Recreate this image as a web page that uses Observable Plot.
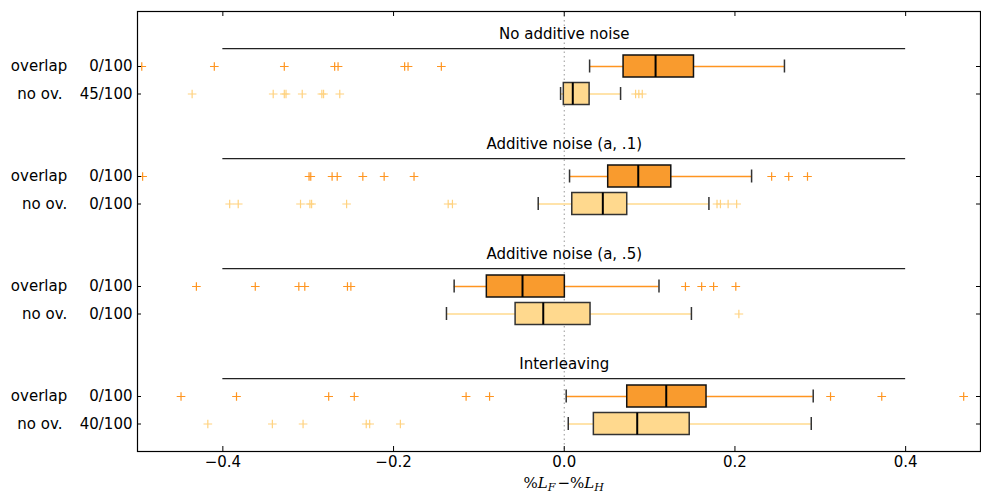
<!DOCTYPE html>
<html>
<head>
<meta charset="utf-8">
<script src="https://cdn.jsdelivr.net/npm/d3@7"></script>
<script src="https://cdn.jsdelivr.net/npm/@observablehq/plot@0.6"></script>
<style>
  html, body { margin: 0; padding: 0; background: #fff; }
  #chart svg { display: block; }
</style>
</head>
<body>
<div id="chart"></div>
<script>
// ---------- data ----------
const groups = ["No additive noise", "Additive noise (a, .1)", "Additive noise (a, .5)", "Interleaving"];
const series = ["overlap", "no ov."];
const counts = [["0/100", "45/100"], ["0/100", "0/100"], ["0/100", "0/100"], ["0/100", "40/100"]];
// row order: g0 overlap, g0 no ov., g1 overlap, g1 no ov., ...
const whiskerLo = [0.0297, -0.0043, 0.0062, -0.0305, -0.129, -0.138, 0.0023, 0.0047];
const q1        = [0.0695, -0.0005, 0.0515, 0.0094, -0.0907, -0.057, 0.0738, 0.0347];
const median    = [0.107, 0.010, 0.0867, 0.0452, -0.0489, -0.0246, 0.1195, 0.0855];
const q3        = [0.152, 0.0297, 0.1254, 0.0738, 0.0007, 0.0308, 0.1667, 0.147];
const whiskerHi = [0.258, 0.066, 0.2195, 0.1695, 0.111, 0.149, 0.2917, 0.2894];
const outliers = [
  [-0.495, -0.41, -0.328, -0.269, -0.265, -0.187, -0.183, -0.144],
  [-0.436, -0.341, -0.328, -0.326, -0.307, -0.284, -0.282, -0.263, 0.0836, 0.0874, 0.0914],
  [-0.494, -0.299, -0.297, -0.272, -0.266, -0.236, -0.211, -0.176, 0.243, 0.263, 0.285],
  [-0.392, -0.382, -0.309, -0.298, -0.296, -0.255, -0.136, -0.131, 0.179, 0.183, 0.192, 0.202],
  [-0.431, -0.362, -0.311, -0.304, -0.254, -0.250, 0.142, 0.161, 0.175, 0.201],
  [0.2046],
  [-0.449, -0.384, -0.276, -0.246, -0.115, -0.0875, 0.312, 0.372, 0.468],
  [-0.4176, -0.342, -0.306, -0.232, -0.228, -0.192]
];
const xTicks = [-0.4, -0.2, 0.0, 0.2, 0.4];
const titleRuleSpan = [-0.4, 0.4];

// ---------- layout / style ----------
const W = 981, H = 493, ml = 137, mr = 1, mt = 11, mb = 42;
const xDomain = [-0.5, 0.4877];
const yDomain = [-1, 15];
const pxPerX = (W - ml - mr) / (xDomain[1] - xDomain[0]);
const pxPerY = (H - mt - mb) / (yDomain[1] - yDomain[0]);
const fills   = ["#f99b2e", "#ffd98e"];
const whiskC  = ["#ff9520", "#ffe3aa"];
const outC    = ["#ff9520", "#ffd27f"];
const edgeC   = ["#111", "#333"];
const boxHalf = 11 / pxPerY, capHalf = 6.5 / pxPerY, tickLenX = 5 / pxPerY, tickLenY = 4 / pxPerX;

const rows = [];
groups.forEach((g, gi) => series.forEach((s, si) => {
  const i = gi * 2 + si;
  rows.push({gi, si, y: 4 * gi + 1 + si, lo: whiskerLo[i], q1: q1[i], med: median[i], q3: q3[i], hi: whiskerHi[i],
    label: s + "\u00a0\u00a0\u00a0\u2009" + counts[gi][si].padStart(6, "\u00a0")});
}));
const outPts = rows.flatMap((r, i) => outliers[i].map(v => ({x: v, y: r.y, si: r.si})));

const fmt = d3.format(".1f");

const plot = Plot.plot({
  width: W, height: H,
  marginLeft: ml, marginRight: mr, marginTop: mt, marginBottom: mb,
  style: {fontFamily: "DejaVu Sans, sans-serif", fontSize: "15px", background: "white"},
  x: {domain: xDomain, axis: null},
  y: {domain: yDomain, reverse: true, axis: null},
  marks: [
    Plot.ruleX([0], {stroke: "#999", strokeDasharray: "1.5,3", strokeWidth: 1}),
    // whiskers
    Plot.ruleY(rows, {y: "y", x1: "lo", x2: "q1", stroke: d => whiskC[d.si], strokeWidth: d => d.si ? 2 : 1.5}),
    Plot.ruleY(rows, {y: "y", x1: "q3", x2: "hi", stroke: d => whiskC[d.si], strokeWidth: d => d.si ? 2 : 1.5}),
    // caps
    Plot.ruleX(rows, {x: "lo", y1: d => d.y - capHalf, y2: d => d.y + capHalf, stroke: "#333", strokeWidth: 1.5}),
    Plot.ruleX(rows, {x: "hi", y1: d => d.y - capHalf, y2: d => d.y + capHalf, stroke: "#333", strokeWidth: 1.5}),
    // boxes
    Plot.rect(rows, {x1: "q1", x2: "q3", y1: d => d.y - boxHalf, y2: d => d.y + boxHalf,
      fill: d => fills[d.si], stroke: d => edgeC[d.si], strokeWidth: 1.5}),
    // medians
    Plot.ruleX(rows, {x: "med", y1: d => d.y - boxHalf, y2: d => d.y + boxHalf, stroke: "#000", strokeWidth: 2}),
    // outliers
    Plot.dot(outPts, {x: "x", y: "y", symbol: "plus", r: 2.9, stroke: d => outC[d.si], strokeWidth: 1.2}),
    // group titles
    Plot.ruleY(groups, {y: (d, i) => 4 * i + 0.35, x1: titleRuleSpan[0], x2: titleRuleSpan[1], stroke: "#222", strokeWidth: 1.2}),
    Plot.text(groups, {x: 0, y: (d, i) => 4 * i - 0.18, text: d => d, fontSize: 15, fill: "#000"}),
    // y tick labels
    Plot.text(rows, {x: () => xDomain[0], y: "y", text: "label", textAnchor: "end", dx: -5, fontSize: 15, fill: "#000"}),
    // inward ticks
    Plot.ruleY(rows, {y: "y", x1: () => xDomain[0], x2: () => xDomain[0] + tickLenY, stroke: "#000"}),
    Plot.ruleY(rows, {y: "y", x1: () => xDomain[1], x2: () => xDomain[1] - tickLenY, stroke: "#000"}),
    Plot.ruleX(xTicks, {x: d => d, y1: () => yDomain[1], y2: () => yDomain[1] - tickLenX, stroke: "#000"}),
    Plot.ruleX(xTicks, {x: d => d, y1: () => yDomain[0], y2: () => yDomain[0] + tickLenX, stroke: "#000"}),
    // x tick labels
    Plot.text(xTicks, {x: d => d, y: () => yDomain[1], text: d => fmt(d), lineAnchor: "top", dy: 5, fontSize: 15, fill: "#000"}),
    Plot.frame({stroke: "#000", strokeWidth: 1.2})
  ]
});
document.getElementById("chart").appendChild(plot);

// x-axis label with sub-scripts (%L_F − %L_H)
const svg = d3.select(plot);
const lab = svg.append("text")
  .attr("x", ml + (0 - xDomain[0]) * pxPerX)
  .attr("y", 488)
  .attr("text-anchor", "middle")
  .attr("font-family", "DejaVu Serif, Liberation Serif, serif")
  .attr("font-size", 15)
  .attr("fill", "#000");
const parts = [
  ["%", "normal", 0], ["L", "italic", 0], ["F", "italic", 1],
  ["\u2212", "normal", 0], ["%", "normal", 0], ["L", "italic", 0], ["H", "italic", 1]
];
let prevSub = false;
parts.forEach(([t, st, sub]) => {
  const ts = lab.append("tspan").attr("font-style", st).text(t);
  if (sub && !prevSub) ts.attr("dy", 3).attr("font-size", 11);
  else if (!sub && prevSub) ts.attr("dy", -3);
  if (sub) ts.attr("font-size", 11);
  if (t === "\u2212") ts.attr("dx", 2);
  if (t === "%" && prevSub) ts.attr("dx", 2);
  prevSub = !!sub;
});
</script>
</body>
</html>
